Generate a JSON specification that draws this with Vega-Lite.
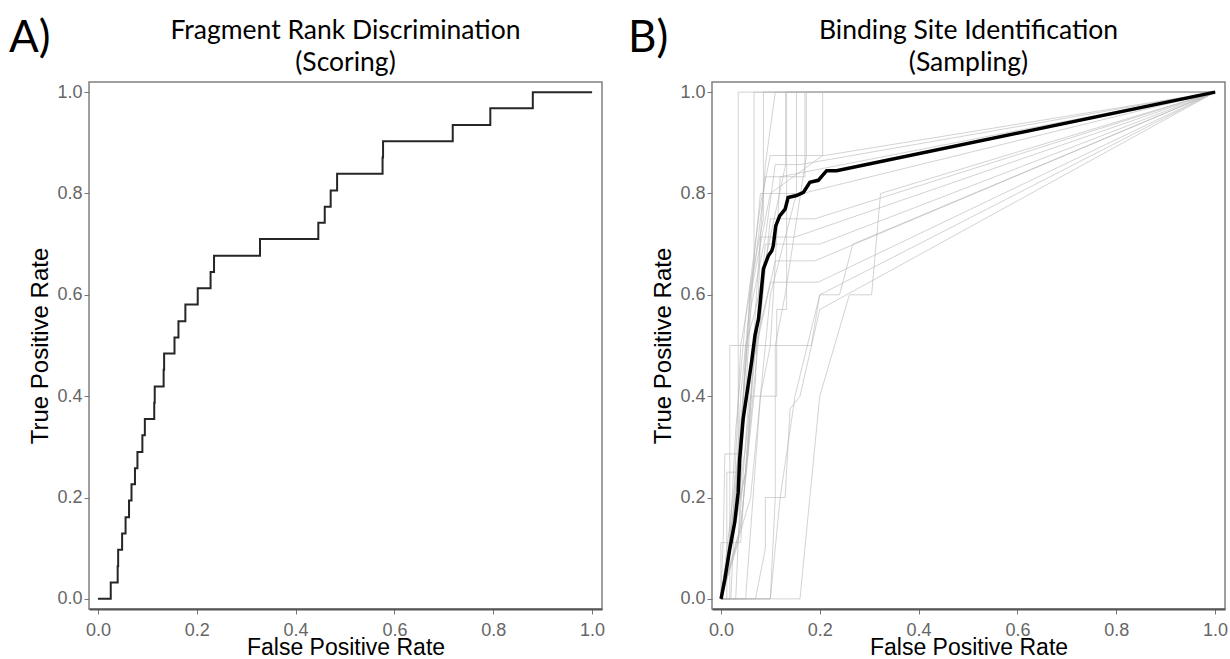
{
  "$schema": "https://vega.github.io/schema/vega-lite/v6.json",
  "background": "white",
  "padding": {"left": 8, "top": 15, "right": 5, "bottom": 0},
  "spacing": 110,
  "bounds": "flush",
  "config": {
    "view": {"stroke": "#808080", "strokeWidth": 1.5},
    "title": {"font": "Lato", "fontSize": 26.5, "fontWeight": "normal", "color": "#000000", "anchor": "middle", "offset": -59.5, "lineHeight": 32},
    "axis": {"grid": false, "labelFont": "Liberation Sans", "labelFontSize": 18, "labelColor": "#666666", "titleFont": "Liberation Sans", "titleFontSize": 24, "titleFontWeight": "normal", "titleColor": "#000000", "tickColor": "#777777", "tickSize": 5, "labelPadding": 2},
    "axisX": {"domainColor": "#555555", "domainWidth": 2, "labelPadding": 7, "titleBaseline": "alphabetic", "titlePadding": 15, "titleFontSize": 23},
    "axisY": {"domain": false}
  },
  "datasets": {
    "rocA": [
      {"i": 0, "fpr": 0, "tpr": 0},
      {"i": 1, "fpr": 0.026, "tpr": 0.0323},
      {"i": 2, "fpr": 0.040, "tpr": 0.0645},
      {"i": 3, "fpr": 0.041, "tpr": 0.0968},
      {"i": 4, "fpr": 0.049, "tpr": 0.129},
      {"i": 5, "fpr": 0.056, "tpr": 0.161},
      {"i": 6, "fpr": 0.063, "tpr": 0.194},
      {"i": 7, "fpr": 0.068, "tpr": 0.226},
      {"i": 8, "fpr": 0.075, "tpr": 0.258},
      {"i": 9, "fpr": 0.080, "tpr": 0.290},
      {"i": 10, "fpr": 0.090, "tpr": 0.323},
      {"i": 11, "fpr": 0.095, "tpr": 0.355},
      {"i": 12, "fpr": 0.114, "tpr": 0.387},
      {"i": 13, "fpr": 0.115, "tpr": 0.419},
      {"i": 14, "fpr": 0.133, "tpr": 0.452},
      {"i": 15, "fpr": 0.134, "tpr": 0.484},
      {"i": 16, "fpr": 0.155, "tpr": 0.516},
      {"i": 17, "fpr": 0.163, "tpr": 0.548},
      {"i": 18, "fpr": 0.177, "tpr": 0.581},
      {"i": 19, "fpr": 0.202, "tpr": 0.613},
      {"i": 20, "fpr": 0.228, "tpr": 0.645},
      {"i": 21, "fpr": 0.235, "tpr": 0.677},
      {"i": 22, "fpr": 0.328, "tpr": 0.710},
      {"i": 23, "fpr": 0.446, "tpr": 0.742},
      {"i": 24, "fpr": 0.459, "tpr": 0.774},
      {"i": 25, "fpr": 0.471, "tpr": 0.806},
      {"i": 26, "fpr": 0.484, "tpr": 0.839},
      {"i": 27, "fpr": 0.576, "tpr": 0.871},
      {"i": 28, "fpr": 0.577, "tpr": 0.903},
      {"i": 29, "fpr": 0.718, "tpr": 0.935},
      {"i": 30, "fpr": 0.794, "tpr": 0.968},
      {"i": 31, "fpr": 0.880, "tpr": 1.0},
      {"i": 32, "fpr": 1.0, "tpr": 1.0}
    ],
    "meanB": [
      {"i": 0, "fpr": 0, "tpr": 0},
      {"i": 1, "fpr": 0.001, "tpr": 0.003},
      {"i": 2, "fpr": 0.008, "tpr": 0.039},
      {"i": 3, "fpr": 0.018, "tpr": 0.099},
      {"i": 4, "fpr": 0.028, "tpr": 0.151},
      {"i": 5, "fpr": 0.035, "tpr": 0.21},
      {"i": 6, "fpr": 0.038, "tpr": 0.276},
      {"i": 7, "fpr": 0.045, "tpr": 0.355},
      {"i": 8, "fpr": 0.052, "tpr": 0.401},
      {"i": 9, "fpr": 0.062, "tpr": 0.467},
      {"i": 10, "fpr": 0.069, "tpr": 0.52},
      {"i": 11, "fpr": 0.076, "tpr": 0.552},
      {"i": 12, "fpr": 0.079, "tpr": 0.579},
      {"i": 13, "fpr": 0.086, "tpr": 0.651},
      {"i": 14, "fpr": 0.096, "tpr": 0.677},
      {"i": 15, "fpr": 0.103, "tpr": 0.687},
      {"i": 16, "fpr": 0.106, "tpr": 0.697},
      {"i": 17, "fpr": 0.111, "tpr": 0.736},
      {"i": 18, "fpr": 0.119, "tpr": 0.756},
      {"i": 19, "fpr": 0.13, "tpr": 0.769},
      {"i": 20, "fpr": 0.136, "tpr": 0.792},
      {"i": 21, "fpr": 0.153, "tpr": 0.796},
      {"i": 22, "fpr": 0.167, "tpr": 0.802},
      {"i": 23, "fpr": 0.18, "tpr": 0.822},
      {"i": 24, "fpr": 0.197, "tpr": 0.826},
      {"i": 25, "fpr": 0.214, "tpr": 0.845},
      {"i": 26, "fpr": 0.234, "tpr": 0.845},
      {"i": 27, "fpr": 1.0, "tpr": 1.0}
    ],
    "greyB": [
      {"c": "g1", "i": 0, "fpr": 0, "tpr": 0}, {"c": "g1", "i": 1, "fpr": 0.012, "tpr": 0}, {"c": "g1", "i": 2, "fpr": 0.012, "tpr": 0.25}, {"c": "g1", "i": 3, "fpr": 0.035, "tpr": 0.25}, {"c": "g1", "i": 4, "fpr": 0.035, "tpr": 1}, {"c": "g1", "i": 5, "fpr": 1, "tpr": 1},
      {"c": "g2", "i": 0, "fpr": 0, "tpr": 0}, {"c": "g2", "i": 1, "fpr": 0.03, "tpr": 0}, {"c": "g2", "i": 2, "fpr": 0.045, "tpr": 0.333}, {"c": "g2", "i": 3, "fpr": 0.067, "tpr": 0.667}, {"c": "g2", "i": 4, "fpr": 0.067, "tpr": 1}, {"c": "g2", "i": 5, "fpr": 1, "tpr": 1},
      {"c": "g3", "i": 0, "fpr": 0, "tpr": 0}, {"c": "g3", "i": 1, "fpr": 0.02, "tpr": 0.125}, {"c": "g3", "i": 2, "fpr": 0.045, "tpr": 0.375}, {"c": "g3", "i": 3, "fpr": 0.06, "tpr": 0.625}, {"c": "g3", "i": 4, "fpr": 0.086, "tpr": 0.75}, {"c": "g3", "i": 5, "fpr": 0.086, "tpr": 1}, {"c": "g3", "i": 6, "fpr": 1, "tpr": 1},
      {"c": "g4", "i": 0, "fpr": 0, "tpr": 0}, {"c": "g4", "i": 1, "fpr": 0.04, "tpr": 0.143}, {"c": "g4", "i": 2, "fpr": 0.055, "tpr": 0.286}, {"c": "g4", "i": 3, "fpr": 0.07, "tpr": 0.571}, {"c": "g4", "i": 4, "fpr": 0.1, "tpr": 0.714}, {"c": "g4", "i": 5, "fpr": 0.131, "tpr": 0.857}, {"c": "g4", "i": 6, "fpr": 0.131, "tpr": 1}, {"c": "g4", "i": 7, "fpr": 1, "tpr": 1},
      {"c": "g5", "i": 0, "fpr": 0, "tpr": 0}, {"c": "g5", "i": 1, "fpr": 0.06, "tpr": 0.2}, {"c": "g5", "i": 2, "fpr": 0.08, "tpr": 0.4}, {"c": "g5", "i": 3, "fpr": 0.1, "tpr": 0.6}, {"c": "g5", "i": 4, "fpr": 0.153, "tpr": 0.8}, {"c": "g5", "i": 5, "fpr": 0.153, "tpr": 1}, {"c": "g5", "i": 6, "fpr": 1, "tpr": 1},
      {"c": "g6", "i": 0, "fpr": 0, "tpr": 0}, {"c": "g6", "i": 1, "fpr": 0.05, "tpr": 0}, {"c": "g6", "i": 2, "fpr": 0.08, "tpr": 0.4}, {"c": "g6", "i": 3, "fpr": 0.1, "tpr": 0.5}, {"c": "g6", "i": 4, "fpr": 0.12, "tpr": 0.833}, {"c": "g6", "i": 5, "fpr": 0.17, "tpr": 0.833}, {"c": "g6", "i": 6, "fpr": 0.17, "tpr": 1}, {"c": "g6", "i": 7, "fpr": 1, "tpr": 1},
      {"c": "g7", "i": 0, "fpr": 0, "tpr": 0}, {"c": "g7", "i": 1, "fpr": 0.1, "tpr": 0}, {"c": "g7", "i": 2, "fpr": 0.11, "tpr": 0.2}, {"c": "g7", "i": 3, "fpr": 0.11, "tpr": 0.5}, {"c": "g7", "i": 4, "fpr": 0.13, "tpr": 0.6}, {"c": "g7", "i": 5, "fpr": 0.173, "tpr": 0.875}, {"c": "g7", "i": 6, "fpr": 0.173, "tpr": 1}, {"c": "g7", "i": 7, "fpr": 1, "tpr": 1},
      {"c": "g8", "i": 0, "fpr": 0, "tpr": 0}, {"c": "g8", "i": 1, "fpr": 0.02, "tpr": 0}, {"c": "g8", "i": 2, "fpr": 0.03, "tpr": 0.2}, {"c": "g8", "i": 3, "fpr": 0.04, "tpr": 0.4}, {"c": "g8", "i": 4, "fpr": 0.06, "tpr": 0.6}, {"c": "g8", "i": 5, "fpr": 0.1, "tpr": 0.8}, {"c": "g8", "i": 6, "fpr": 0.206, "tpr": 0.875}, {"c": "g8", "i": 7, "fpr": 0.206, "tpr": 1}, {"c": "g8", "i": 8, "fpr": 1, "tpr": 1},
      {"c": "g9", "i": 0, "fpr": 0, "tpr": 0}, {"c": "g9", "i": 1, "fpr": 0.018, "tpr": 0.111}, {"c": "g9", "i": 2, "fpr": 0.03, "tpr": 0.333}, {"c": "g9", "i": 3, "fpr": 0.05, "tpr": 0.556}, {"c": "g9", "i": 4, "fpr": 0.08, "tpr": 0.778}, {"c": "g9", "i": 5, "fpr": 0.1, "tpr": 0.875}, {"c": "g9", "i": 6, "fpr": 0.21, "tpr": 0.875}, {"c": "g9", "i": 7, "fpr": 1, "tpr": 1},
      {"c": "g10", "i": 0, "fpr": 0, "tpr": 0}, {"c": "g10", "i": 1, "fpr": 0.035, "tpr": 0.286}, {"c": "g10", "i": 2, "fpr": 0.06, "tpr": 0.571}, {"c": "g10", "i": 3, "fpr": 0.09, "tpr": 0.714}, {"c": "g10", "i": 4, "fpr": 0.11, "tpr": 0.857}, {"c": "g10", "i": 5, "fpr": 0.16, "tpr": 0.857}, {"c": "g10", "i": 6, "fpr": 1, "tpr": 1},
      {"c": "g11", "i": 0, "fpr": 0, "tpr": 0}, {"c": "g11", "i": 1, "fpr": 0.025, "tpr": 0.167}, {"c": "g11", "i": 2, "fpr": 0.04, "tpr": 0.5}, {"c": "g11", "i": 3, "fpr": 0.07, "tpr": 0.667}, {"c": "g11", "i": 4, "fpr": 0.09, "tpr": 0.833}, {"c": "g11", "i": 5, "fpr": 0.12, "tpr": 0.833}, {"c": "g11", "i": 6, "fpr": 1, "tpr": 1},
      {"c": "g12", "i": 0, "fpr": 0, "tpr": 0}, {"c": "g12", "i": 1, "fpr": 0.03, "tpr": 0.2}, {"c": "g12", "i": 2, "fpr": 0.06, "tpr": 0.6}, {"c": "g12", "i": 3, "fpr": 0.08, "tpr": 0.8}, {"c": "g12", "i": 4, "fpr": 0.165, "tpr": 0.8}, {"c": "g12", "i": 5, "fpr": 1, "tpr": 1},
      {"c": "g13", "i": 0, "fpr": 0, "tpr": 0}, {"c": "g13", "i": 1, "fpr": 0.05, "tpr": 0.25}, {"c": "g13", "i": 2, "fpr": 0.075, "tpr": 0.5}, {"c": "g13", "i": 3, "fpr": 0.1, "tpr": 0.75}, {"c": "g13", "i": 4, "fpr": 0.19, "tpr": 0.75}, {"c": "g13", "i": 5, "fpr": 1, "tpr": 1},
      {"c": "g14", "i": 0, "fpr": 0, "tpr": 0}, {"c": "g14", "i": 1, "fpr": 0.04, "tpr": 0.143}, {"c": "g14", "i": 2, "fpr": 0.07, "tpr": 0.429}, {"c": "g14", "i": 3, "fpr": 0.08, "tpr": 0.714}, {"c": "g14", "i": 4, "fpr": 0.15, "tpr": 0.714}, {"c": "g14", "i": 5, "fpr": 1, "tpr": 1},
      {"c": "g15", "i": 0, "fpr": 0, "tpr": 0}, {"c": "g15", "i": 1, "fpr": 0.02, "tpr": 0.1}, {"c": "g15", "i": 2, "fpr": 0.05, "tpr": 0.3}, {"c": "g15", "i": 3, "fpr": 0.07, "tpr": 0.5}, {"c": "g15", "i": 4, "fpr": 0.09, "tpr": 0.7}, {"c": "g15", "i": 5, "fpr": 0.2, "tpr": 0.7}, {"c": "g15", "i": 6, "fpr": 1, "tpr": 1},
      {"c": "g16", "i": 0, "fpr": 0, "tpr": 0}, {"c": "g16", "i": 1, "fpr": 0.035, "tpr": 0.111}, {"c": "g16", "i": 2, "fpr": 0.06, "tpr": 0.444}, {"c": "g16", "i": 3, "fpr": 0.11, "tpr": 0.667}, {"c": "g16", "i": 4, "fpr": 0.19, "tpr": 0.667}, {"c": "g16", "i": 5, "fpr": 1, "tpr": 1},
      {"c": "g17", "i": 0, "fpr": 0, "tpr": 0}, {"c": "g17", "i": 1, "fpr": 0.02, "tpr": 0.125}, {"c": "g17", "i": 2, "fpr": 0.05, "tpr": 0.25}, {"c": "g17", "i": 3, "fpr": 0.07, "tpr": 0.5}, {"c": "g17", "i": 4, "fpr": 0.1, "tpr": 0.625}, {"c": "g17", "i": 5, "fpr": 0.197, "tpr": 0.625}, {"c": "g17", "i": 6, "fpr": 1, "tpr": 1},
      {"c": "g18", "i": 0, "fpr": 0, "tpr": 0}, {"c": "g18", "i": 1, "fpr": 0.1, "tpr": 0}, {"c": "g18", "i": 2, "fpr": 0.12, "tpr": 0.2}, {"c": "g18", "i": 3, "fpr": 0.15, "tpr": 0.4}, {"c": "g18", "i": 4, "fpr": 0.2, "tpr": 0.6}, {"c": "g18", "i": 5, "fpr": 0.24, "tpr": 0.6}, {"c": "g18", "i": 6, "fpr": 0.267, "tpr": 0.7}, {"c": "g18", "i": 7, "fpr": 1, "tpr": 1},
      {"c": "g19", "i": 0, "fpr": 0, "tpr": 0}, {"c": "g19", "i": 1, "fpr": 0.16, "tpr": 0}, {"c": "g19", "i": 2, "fpr": 0.18, "tpr": 0.2}, {"c": "g19", "i": 3, "fpr": 0.2, "tpr": 0.4}, {"c": "g19", "i": 4, "fpr": 0.26, "tpr": 0.6}, {"c": "g19", "i": 5, "fpr": 0.305, "tpr": 0.6}, {"c": "g19", "i": 6, "fpr": 0.323, "tpr": 0.8}, {"c": "g19", "i": 7, "fpr": 1, "tpr": 1},
      {"c": "g20", "i": 0, "fpr": 0, "tpr": 0}, {"c": "g20", "i": 1, "fpr": 0.018, "tpr": 0}, {"c": "g20", "i": 2, "fpr": 0.018, "tpr": 0.5}, {"c": "g20", "i": 3, "fpr": 0.183, "tpr": 0.5}, {"c": "g20", "i": 4, "fpr": 0.2, "tpr": 0.6}, {"c": "g20", "i": 5, "fpr": 1, "tpr": 1},
      {"c": "g21", "i": 0, "fpr": 0, "tpr": 0}, {"c": "g21", "i": 1, "fpr": 0.005, "tpr": 0.125}, {"c": "g21", "i": 2, "fpr": 0.008, "tpr": 0.286}, {"c": "g21", "i": 3, "fpr": 0.04, "tpr": 0.286}, {"c": "g21", "i": 4, "fpr": 0.05, "tpr": 0.5}, {"c": "g21", "i": 5, "fpr": 0.07, "tpr": 0.571}, {"c": "g21", "i": 6, "fpr": 0.09, "tpr": 0.857}, {"c": "g21", "i": 7, "fpr": 0.11, "tpr": 1}, {"c": "g21", "i": 8, "fpr": 1, "tpr": 1},
      {"c": "g22", "i": 0, "fpr": 0, "tpr": 0}, {"c": "g22", "i": 1, "fpr": 0.07, "tpr": 0}, {"c": "g22", "i": 2, "fpr": 0.09, "tpr": 0.1}, {"c": "g22", "i": 3, "fpr": 0.09, "tpr": 0.2}, {"c": "g22", "i": 4, "fpr": 0.13, "tpr": 0.2}, {"c": "g22", "i": 5, "fpr": 0.14, "tpr": 0.375}, {"c": "g22", "i": 6, "fpr": 0.16, "tpr": 0.4}, {"c": "g22", "i": 7, "fpr": 0.2, "tpr": 0.571}, {"c": "g22", "i": 8, "fpr": 1, "tpr": 1},
      {"c": "g23", "i": 0, "fpr": 0, "tpr": 0}, {"c": "g23", "i": 1, "fpr": 0, "tpr": 0.111}, {"c": "g23", "i": 2, "fpr": 0.04, "tpr": 0.111}, {"c": "g23", "i": 3, "fpr": 0.06, "tpr": 0.4}, {"c": "g23", "i": 4, "fpr": 0.113, "tpr": 0.4}, {"c": "g23", "i": 5, "fpr": 0.113, "tpr": 0.571}, {"c": "g23", "i": 6, "fpr": 0.133, "tpr": 0.571}, {"c": "g23", "i": 7, "fpr": 0.133, "tpr": 1}, {"c": "g23", "i": 8, "fpr": 1, "tpr": 1}
    ]
  },
  "hconcat": [
    {
      "width": 513,
      "height": 527,
      "title": {"text": ["Fragment Rank Discrimination", "(Scoring)"]},
      "layer": [
        {
          "data": {"name": "rocA"},
          "mark": {"type": "line", "interpolate": "step-after", "color": "#262626", "strokeWidth": 2},
          "encoding": {
            "x": {"field": "fpr", "type": "quantitative", "scale": {"domain": [-0.018, 1.02], "nice": false, "zero": false}, "axis": {"title": "False Positive Rate", "values": [0, 0.2, 0.4, 0.6, 0.8, 1], "format": ".1f"}},
            "y": {"field": "tpr", "type": "quantitative", "scale": {"domain": [-0.02, 1.02], "nice": false, "zero": false}, "axis": {"title": "True Positive Rate", "values": [0, 0.2, 0.4, 0.6, 0.8, 1], "format": ".1f"}},
            "order": {"field": "i", "type": "quantitative"}
          }
        },
        {
          "data": {"values": [{"tag": "A)"}]},
          "mark": {"type": "text", "font": "Lato", "fontSize": 44, "align": "left", "baseline": "alphabetic", "color": "#000000"},
          "encoding": {
            "x": {"datum": -0.18, "type": "quantitative"},
            "y": {"datum": 1.08, "type": "quantitative"},
            "text": {"field": "tag"}
          }
        }
      ]
    },
    {
      "width": 513,
      "height": 527,
      "title": {"text": ["Binding Site Identification", "(Sampling)"]},
      "layer": [
        {
          "data": {"name": "greyB"},
          "mark": {"type": "line", "color": "#b5b5b5", "strokeWidth": 1, "opacity": 0.6},
          "encoding": {
            "x": {"field": "fpr", "type": "quantitative", "scale": {"domain": [-0.018, 1.02], "nice": false, "zero": false}, "axis": {"title": "False Positive Rate", "values": [0, 0.2, 0.4, 0.6, 0.8, 1], "format": ".1f"}},
            "y": {"field": "tpr", "type": "quantitative", "scale": {"domain": [-0.02, 1.02], "nice": false, "zero": false}, "axis": {"title": "True Positive Rate", "values": [0, 0.2, 0.4, 0.6, 0.8, 1], "format": ".1f"}},
            "detail": {"field": "c", "type": "nominal"},
            "order": {"field": "i", "type": "quantitative"}
          }
        },
        {
          "data": {"name": "meanB"},
          "mark": {"type": "line", "color": "#000000", "strokeWidth": 3.5},
          "encoding": {
            "x": {"field": "fpr", "type": "quantitative"},
            "y": {"field": "tpr", "type": "quantitative"},
            "order": {"field": "i", "type": "quantitative"}
          }
        },
        {
          "data": {"values": [{"tag": "B)"}]},
          "mark": {"type": "text", "font": "Lato", "fontSize": 44, "align": "left", "baseline": "alphabetic", "color": "#000000"},
          "encoding": {
            "x": {"datum": -0.188, "type": "quantitative"},
            "y": {"datum": 1.08, "type": "quantitative"},
            "text": {"field": "tag"}
          }
        }
      ]
    }
  ]
}
